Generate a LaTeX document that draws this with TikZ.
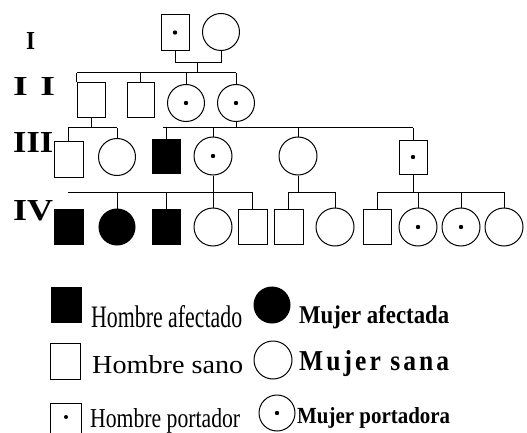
\documentclass[tikz,border=0pt]{standalone}
\usepackage{fontspec}
\setmainfont{Liberation Serif}
\usepackage{graphicx}
\newcommand{\fitt}[3]{\resizebox{#1pt}{#2pt}{#3}}
\tikzset{
  male/.style={draw, rectangle, minimum width=28pt, minimum height=36pt, inner sep=0pt, line width=1pt},
  female/.style={draw, circle, minimum size=37pt, inner sep=0pt, line width=1pt},
  aff/.style={fill=black},
  link/.style={line width=1pt},
  lbl/.style={anchor=base west, inner sep=0pt},
  gen/.style={anchor=north west, inner sep=0pt},
}
\newcommand{\cdotmark}[1]{\fill (#1) circle (2.2pt);}
\begin{document}
\begin{tikzpicture}[x=1pt,y=-1pt]
\useasboundingbox (0,0) rectangle (527,433);
% generation labels
\node[gen] (gI) at (26,32) {\fitt{9}{17}{\bfseries I}};
\node[gen] (gII) at (13,77) {\fitt{42}{18}{\bfseries I\,\,I}};
\node[gen] (gIII) at (13,132) {\fitt{40}{20}{\bfseries III}};
\node[gen] (gIV) at (13,200) {\fitt{40}{20}{\bfseries IV}};
% generation I
\node[male] (a1) at (175,32.5) {};
\node[female] (a2) at (221,32) {};
\cdotmark{a1}
% generation II
\node[male, minimum height=35pt] (b1) at (91,100.5) {};
\node[male, minimum width=27pt, minimum height=35pt] (b2) at (140.5,100.5) {};
\node[female] (b3) at (186,103) {};
\node[female] (b4) at (236,103) {};
\cdotmark{b3}\cdotmark{b4}
% generation III
\node[male, minimum width=29pt] (c1) at (68.5,159) {};
\node[female] (c2) at (117,157) {};
\node[male, aff, minimum height=34pt] (c3) at (166,156) {};
\node[female, minimum size=38pt] (c4) at (213,156) {};
\node[female, minimum size=38pt] (c5) at (298,156) {};
\node[male, minimum height=34pt] (c6) at (413,157) {};
\cdotmark{c4}\cdotmark{c6}
% generation IV
\node[male, aff, minimum width=29pt, minimum height=35pt] (d1) at (68.5,226.5) {};
\node[female, aff, minimum size=36pt] (d2) at (117,227) {};
\node[male, aff, minimum height=35pt] (d3) at (166,226.5) {};
\node[female, minimum size=38pt] (d4) at (213,227) {};
\node[male, minimum width=29pt, minimum height=35pt] (d5) at (252.5,226.5) {};
\node[male, minimum width=29pt, minimum height=35pt] (d6) at (288.5,226.5) {};
\node[female, minimum size=38pt] (d7) at (335,227) {};
\node[male, minimum height=35pt] (d8) at (377,226.5) {};
\node[female, minimum size=38pt] (d9) at (418,227) {};
\node[female, minimum size=38pt] (d10) at (461,227) {};
\node[female, minimum size=38pt] (d11) at (504,227) {};
\cdotmark{d9}\cdotmark{d10}
% junction coordinates
\coordinate (m1) at (197,63);
\coordinate (s1a) at (77,73);
\coordinate (s1b) at (236,73);
\coordinate (s2a) at (68,128);
\coordinate (s2b) at (117,128);
\coordinate (s3a) at (163,128);
\coordinate (s3b) at (413,128);
\coordinate (s4a) at (68,192);
\coordinate (s4b) at (252.5,192);
\coordinate (s5a) at (288.5,192);
\coordinate (s5b) at (335,192);
\coordinate (s6a) at (377,192);
\coordinate (s6b) at (504,192);
% connectors
\draw[link] (a1.south) -- (a1.south |- m1) -- (a2.south |- m1) -- (a2.south);
\draw[link] (m1) -- (m1 |- s1a);
\draw[link] (s1a) -- (s1b);
\draw[link] (b1.north west) -- (b1.north west |- s1a);
\draw[link] (b2.north) -- (b2.north |- s1a);
\draw[link] (b3.north) -- (b3.north |- s1a);
\draw[link] (b4.north) -- (b4.north |- s1a);
\draw[link] (b1.south) -- (b1.south |- s2a);
\draw[link] (s2a) -- (s2b);
\draw[link] (c1.north) -- (c1.north |- s2a);
\draw[link] (c2.north) -- (c2.north |- s2a);
\draw[link] (b4.south) -- (b4.south |- s3a);
\draw[link] (s3a) -- (s3b);
\draw[link] (c3.north) -- (c3.north |- s3a);
\draw[link] (c4.north) -- (c4.north |- s3a);
\draw[link] (c5.north) -- (c5.north |- s3a);
\draw[link] (c6.north) -- (c6.north |- s3a);
\draw[link] (c4.south) -- (c4.south |- s4a);
\draw[link] (s4a) -- (s4b);
\draw[link] (d2.north) -- (d2.north |- s4a);
\draw[link] (d3.north) -- (d3.north |- s4a);
\draw[link] (d4.north) -- (d4.north |- s4a);
\draw[link] (d5.north) -- (d5.north |- s4a);
\draw[link] (c5.south) -- (c5.south |- s5a);
\draw[link] (s5a) -- (s5b);
\draw[link] (d6.north) -- (d6.north |- s5a);
\draw[link] (d7.north) -- (d7.north |- s5a);
\draw[link] (c6.south) -- (c6.south |- s6a);
\draw[link] (s6a) -- (s6b);
\draw[link] (d8.north) -- (d8.north |- s6a);
\draw[link] (d9.north) -- (d9.north |- s6a);
\draw[link] (d10.north) -- (d10.north |- s6a);
\draw[link] (d11.north) -- (d11.north |- s6a);
% legend
\node[male, aff, minimum width=30pt, minimum height=35pt] (L1) at (66,304.5) {};
\node[female, aff, minimum size=36pt] (L2) at (272,305) {};
\node[male, minimum width=30pt, minimum height=36pt] (L3) at (65,361) {};
\node[female, minimum size=38pt] (L4) at (273,360) {};
\node[male, minimum width=31pt, minimum height=36pt] (L5) at (65.5,421) {};
\node[female, minimum size=36pt] (L6) at (277,413) {};
\fill (66,417) circle (2pt);
\cdotmark{L6}
\node[lbl] (t1) at (91,327) {\fitt{151}{22}{Hombre afectado}};
\node[lbl] (t2) at (299,323) {\fitt{150}{18}{\bfseries Mujer afectada}};
\node[lbl] (t3) at (92,373) {\fitt{151}{18}{Hombre sano}};
\node[lbl] (t4) at (299,370) {\fitt{150}{20}{\bfseries\addfontfeature{LetterSpace=12}Mujer sana}};
\node[lbl] (t5) at (90,427) {\fitt{150}{19}{Hombre portador}};
\node[lbl] (t6) at (297,423) {\fitt{153}{16}{\bfseries Mujer portadora}};
\end{tikzpicture}
\end{document}
